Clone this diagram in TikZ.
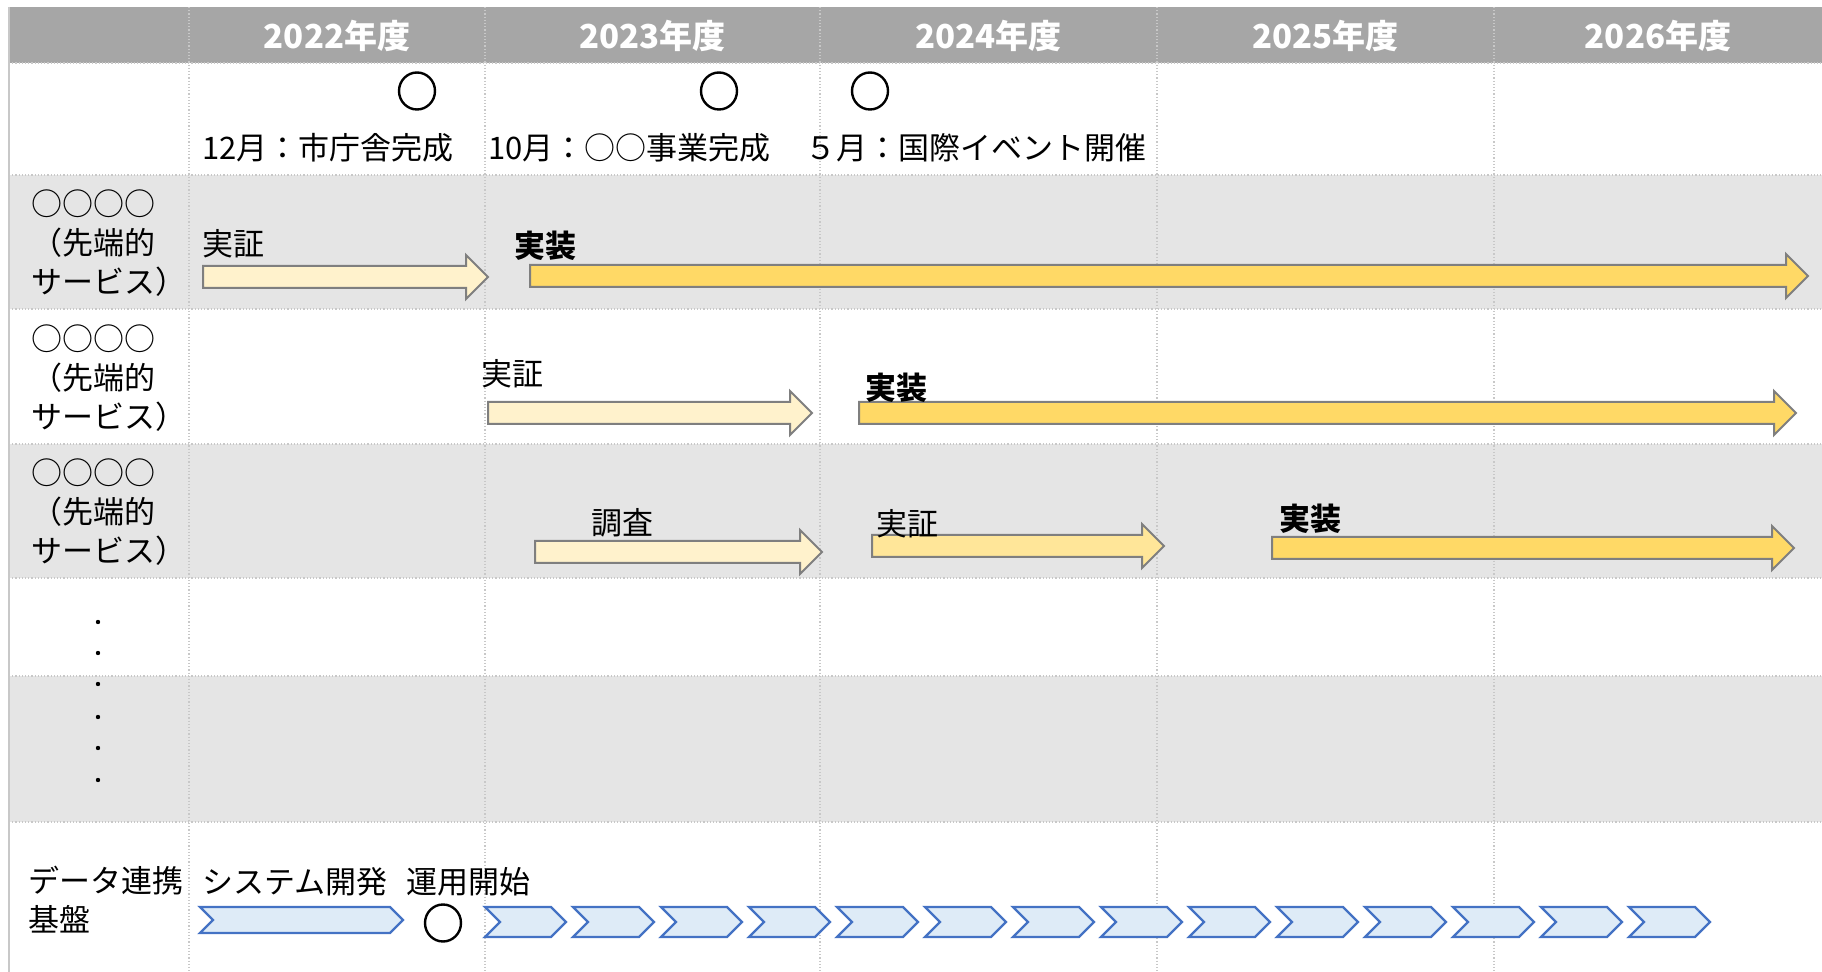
\documentclass[tikz,border=0pt]{standalone}
\usepackage{fontspec}
\setmainfont{Noto Sans CJK JP}
\usetikzlibrary{shapes.arrows,shapes.symbols,shapes.geometric}

\definecolor{headgray}{HTML}{A6A6A6}
\definecolor{rowgray}{HTML}{E5E5E5}
\definecolor{gridgray}{HTML}{C8C8C8}
\definecolor{paleyellow}{HTML}{FFF2CC}
\definecolor{midyellow}{HTML}{FFE699}
\definecolor{goldyellow}{HTML}{FFD966}
\definecolor{arrowgray}{HTML}{7F7F7F}
\definecolor{chevfill}{HTML}{DEEBF7}
\definecolor{chevline}{HTML}{4472C4}

\begin{document}
\begin{tikzpicture}[x=0.5pt, y=-0.5pt,
    every node/.style={font=\fontsize{15.5}{19.5}\selectfont, inner sep=0pt},
    yearlabel/.style={font=\fontsize{16.5}{20}\selectfont\bfseries, text=white},
    plainlabel/.style={anchor=west},
    boldlabel/.style={anchor=west, font=\fontsize{15.5}{19.5}\selectfont\bfseries},
    rowlabel/.style={anchor=west, align=left},
    stagearrow/.style={single arrow, draw=arrowgray, line width=1pt, inner xsep=0pt,
        inner ysep=5pt, single arrow head extend=5.5pt, anchor=tail},
    len/.style={minimum height=#1*0.5pt},
    milestone/.style={ellipse, draw, line width=1.2pt, minimum width=18pt, minimum height=18.5pt},
    opchev/.style={signal, signal from=west, signal to=east, draw=chevline, fill=chevfill,
        line width=1.2pt, minimum width=40.5pt, minimum height=15pt},
    gridline/.style={gridgray, line width=0.6pt, densely dotted}]

    \useasboundingbox (0,0) rectangle (1822,972);

    % --- background bands ---
    \fill[headgray] (9,7) rectangle (1822,63);
    \fill[rowgray] (9,175) rectangle (1822,309);
    \fill[rowgray] (9,444) rectangle (1822,578);
    \fill[rowgray] (9,676) rectangle (1822,822);

    % --- grid ---
    \foreach \gy in {63,175,309,444,578,676,822}
        \draw[gridline] (9,\gy) -- (1822,\gy);
    \foreach \gx in {189,485,820,1157,1494}
        \draw[gridline] (\gx,7) -- (\gx,972);
    \draw[gridgray, line width=0.6pt] (9,7) -- (9,972);

    % --- header ---
    \foreach \yr/\cx in {2022/337,2023/652.5,2024/988.5,2025/1325.5,2026/1658}
        \node[yearlabel] (h\yr) at (\cx,36) {\yr 年度};

    % --- milestones ---
    \node[milestone] (c1) at (417,91) {};
    \node[milestone] (c2) at (719,91) {};
    \node[milestone] (c3) at (870,91) {};
    \node[plainlabel] (m1) at (202,148) {12月：市庁舎完成};
    \node[plainlabel] (m2) at (488,148) {10月：○○事業完成};
    \node[plainlabel] (m3) at (805,148) {５月：国際イベント開催};

    % --- service rows ---
    \node[rowlabel] (s1) at (31,243) {○○○○\\（先端的\\サービス）};
    \node[rowlabel] (s2) at (31,378) {○○○○\\（先端的\\サービス）};
    \node[rowlabel] (s3) at (31,512) {○○○○\\（先端的\\サービス）};

    % row 1
    \node[stagearrow, len=285, fill=paleyellow] (a1) at (202,277) {};
    \node[stagearrow, len=1278, fill=goldyellow] (b1) at (529,276) {};
    \node[plainlabel] (ta1) at (202,244) {実証};
    \node[boldlabel] (tb1) at (514,246) {実装};

    % row 2
    \node[stagearrow, len=324, fill=paleyellow] (a2) at (487,413) {};
    \node[stagearrow, len=937, fill=goldyellow] (b2) at (858,413) {};
    \node[plainlabel] (ta2) at (481,374) {実証};
    \node[boldlabel] (tb2) at (865,388) {実装};

    % row 3
    \node[stagearrow, len=287, fill=paleyellow] (a3) at (534,552) {};
    \node[stagearrow, len=292, fill=midyellow] (b3) at (871,546) {};
    \node[stagearrow, len=522, fill=goldyellow] (c3a) at (1271,548) {};
    \node[plainlabel] (ta3) at (591,523) {調査};
    \node[plainlabel] (tb3) at (876,524) {実証};
    \node[boldlabel] (tc3) at (1279,519) {実装};

    % --- dots ---
    \foreach \dy in {622,653,684,717,748,780}
        \fill (98,\dy) circle[radius=1.1pt];

    % --- data platform ---
    \node[rowlabel] (dp) at (28,900) {データ連携\\基盤};
    \node[plainlabel] (dev) at (202,882) {システム開発};
    \node[plainlabel] (run) at (406,882) {運用開始};
    \node[opchev, minimum width=101.5pt, minimum height=13pt] (devchev) at (301.5,920) {};
    \node[milestone] (c4) at (443,923) {};
    \foreach \i in {0,...,13}
        \node[opchev] (op\i) at ({525.5+88*\i},922) {};

\end{tikzpicture}
\end{document}
